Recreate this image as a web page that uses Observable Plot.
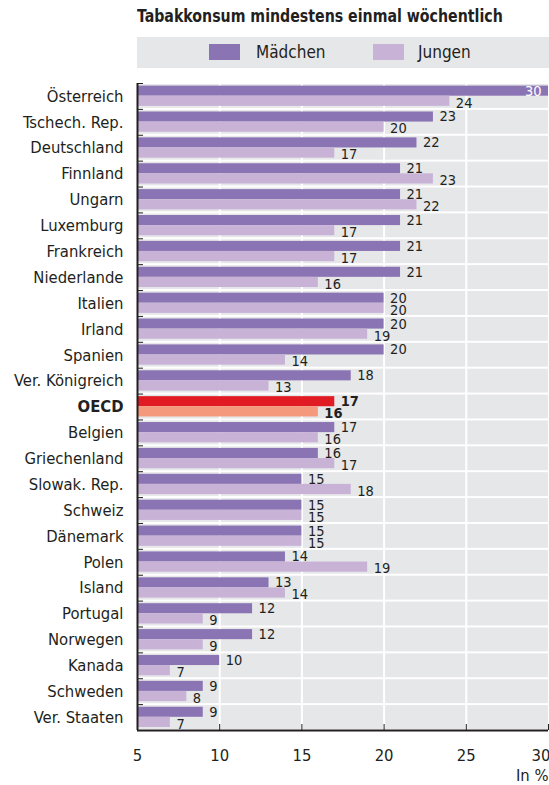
<!DOCTYPE html>
<html>
<head>
<meta charset="utf-8">
<script src="https://cdn.jsdelivr.net/npm/d3@7"></script>
<script src="https://cdn.jsdelivr.net/npm/@observablehq/plot@0.6"></script>
<style>
  body { margin: 0; background: #fff; font-family: "DejaVu Sans Condensed", "DejaVu Sans", sans-serif; font-stretch: condensed; color: #231f20; }
  #wrap { position: relative; width: 549px; height: 785px; }
  #title { position: absolute; left: 137px; top: 6px; font-weight: bold; font-size: 17.5px; white-space: nowrap; transform: scaleX(0.9); transform-origin: left top; }
  #legend { position: absolute; left: 137px; top: 37px; width: 412px; height: 31px; background: #e6e7e9; font-size: 17px; }
  .sw { position: absolute; top: 7px; width: 31px; height: 16px; }
  .lt { position: absolute; top: 5px; }
  #chart { position: absolute; left: 0; top: 75px; }
</style>
</head>
<body>
<div id="wrap">
  <div id="title">Tabakkonsum mindestens einmal wöchentlich</div>
  <div id="legend">
    <div class="sw" style="left:72px;background:#8b74b4"></div><div class="lt" style="left:119px">Mädchen</div>
    <div class="sw" style="left:236px;background:#c8b3d7"></div><div class="lt" style="left:281px">Jungen</div>
  </div>
  <div id="chart"></div>
</div>
<script>
// Share of 15-year-olds smoking at least once a week, in percent
const countries = ["Österreich", "Tschech. Rep.", "Deutschland", "Finnland", "Ungarn", "Luxemburg",
  "Frankreich", "Niederlande", "Italien", "Irland", "Spanien", "Ver. Königreich", "OECD", "Belgien",
  "Griechenland", "Slowak. Rep.", "Schweiz", "Dänemark", "Polen", "Island", "Portugal", "Norwegen",
  "Kanada", "Schweden", "Ver. Staaten"];
const maedchen = [30, 23, 22, 21, 21, 21, 21, 21, 20, 20, 20, 18, 17, 17, 16, 15, 15, 15, 14, 13, 12, 12, 10, 9, 9];
const jungen   = [24, 20, 17, 23, 22, 17, 17, 16, 20, 19, 14, 13, 16, 16, 17, 18, 15, 15, 19, 14, 9, 9, 7, 8, 7];
const xTicks = [5, 10, 15, 20, 25, 30];
const gridTicks = [10, 15, 20, 25];

const rows = countries.map((c, i) => ({country: c, m: maedchen[i], j: jungen[i], oecd: c === "OECD"}));
const plain = rows.filter(d => !d.oecd);
const oecd = rows.filter(d => d.oecd);

const width = 549, height = 710;
const marginTop = 8, marginBottom = 55, marginLeft = 137, marginRight = 1;
const bw = (height - marginTop - marginBottom) / countries.length;
const xMin = xTicks[0], xMax = xTicks[xTicks.length - 1];
const ink = "#231f20";
const font = '"DejaVu Sans Condensed", "DejaVu Sans", sans-serif';
const valueSize = 14.5;

const mLabel = {y: "country", x: "m", text: d => String(d.m), textAnchor: "start", dx: 6, dy: -5.5, fontSize: valueSize, fill: ink};
const jLabel = {y: "country", x: "j", text: d => String(d.j), textAnchor: "start", dx: 6, dy: 6.5, fontSize: valueSize, fill: ink};

const chart = Plot.plot({
  width, height, marginTop, marginBottom, marginLeft, marginRight,
  style: {fontFamily: font, fontStretch: "condensed", color: ink, background: "transparent"},
  x: {domain: [xMin, xMax], axis: null},
  y: {domain: countries, padding: 0, round: false, axis: null},
  marks: [
    // grey row bands with white separators
    Plot.barX(rows, {y: "country", x1: xMin, x2: xMax, fill: "#e6e7e9", insetTop: 1, insetBottom: 1}),
    Plot.ruleX(gridTicks, {stroke: "#fff", strokeWidth: 2}),
    // bars
    Plot.barX(rows, {y: "country", x1: xMin, x2: "m", fill: d => d.oecd ? "#e01b23" : "#8b74b4", insetTop: 2.6, insetBottom: 13.2}),
    Plot.barX(rows, {y: "country", x1: xMin, x2: "j", fill: d => d.oecd ? "#f4997b" : "#c8b3d7", insetTop: 12.7, insetBottom: 3}),
    // value labels
    Plot.text(plain.filter(d => d.m < xMax), mLabel),
    Plot.text(oecd, {...mLabel, fontWeight: "bold"}),
    Plot.text(rows.filter(d => d.m >= xMax), {...mLabel, textAnchor: "end", dx: -7, fill: "#fff"}),
    Plot.text(plain, jLabel),
    Plot.text(oecd, {...jLabel, fontWeight: "bold"}),
    // country names
    Plot.axisY(countries.filter(c => c !== "OECD"), {anchor: "left", label: null, tickSize: 0, tickPadding: 14, fontSize: 16.5}),
    Plot.axisY(["OECD"], {anchor: "left", label: null, tickSize: 0, tickPadding: 14, fontSize: 16.5, fontWeight: "bold"}),
    // small ticks at row boundaries
    Plot.axisY({anchor: "left", label: null, tickSize: -6, dy: -bw / 2, tickFormat: () => "", stroke: ink}),
    // axis lines
    Plot.ruleX([xMin], {stroke: ink, strokeWidth: 2}),
    Plot.ruleY([countries[countries.length - 1]], {y: d => d, stroke: ink, strokeWidth: 2, dy: bw / 2}),
    // x axis
    Plot.axisX(gridTicks.concat([xMax]), {anchor: "bottom", label: null, tickSize: -6, tickFormat: () => "", stroke: ink}),
    Plot.axisX(xTicks.slice(0, -1), {anchor: "bottom", label: null, tickSize: 0, tickPadding: 19, fontSize: 16.5}),
    Plot.axisX([xMax], {anchor: "bottom", label: null, tickSize: 0, tickPadding: 19, fontSize: 16.5, textAnchor: "end", dx: 2}),
    Plot.text(["In %"], {frameAnchor: "bottom-right", dy: 50, textAnchor: "end", fontSize: 16.5, fill: ink})
  ]
});
document.getElementById("chart").append(chart);
</script>
</body>
</html>
